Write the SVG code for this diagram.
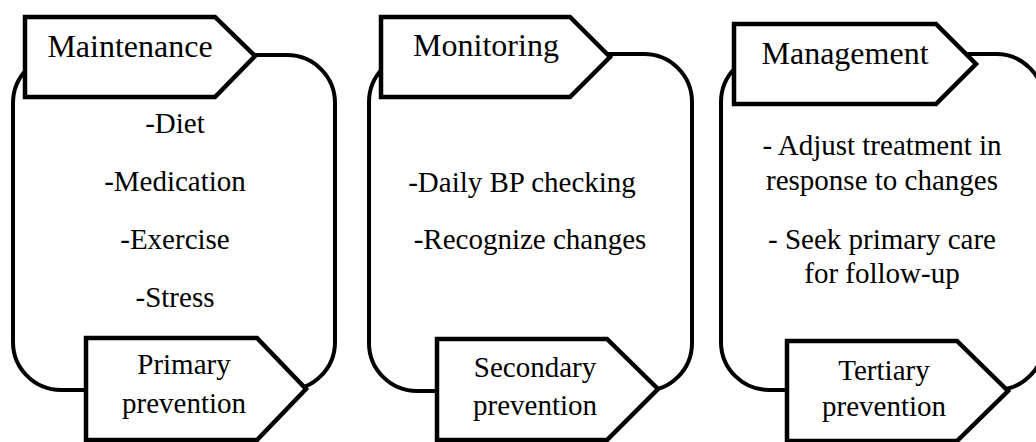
<svg xmlns="http://www.w3.org/2000/svg" width="1036" height="442" viewBox="0 0 1036 442">
<style>
.frame{fill:none;stroke:#000;stroke-width:4}
.tag{fill:#fff;stroke:#000;stroke-width:4.5;stroke-linejoin:miter}
</style>
<rect width="1036" height="442" fill="#fff"/>
<g id="panel1">
<rect class="frame" x="13" y="55" width="322" height="335" rx="48" ry="48"/>
<polygon class="tag" points="25,17 215,17 255,56 215,97 25,97"/>
<text x="130" y="57" style="font-family:Times New Roman,Liberation Serif,serif;font-size:32px" text-anchor="middle">Maintenance</text>
<text x="175" y="133" style="font-family:Times New Roman,Liberation Serif,serif;font-size:29px" text-anchor="middle">-Diet</text>
<text x="175" y="191" style="font-family:Times New Roman,Liberation Serif,serif;font-size:29px" text-anchor="middle">-Medication</text>
<text x="175" y="249" style="font-family:Times New Roman,Liberation Serif,serif;font-size:29px" text-anchor="middle">-Exercise</text>
<text x="175" y="307" style="font-family:Times New Roman,Liberation Serif,serif;font-size:29px" text-anchor="middle">-Stress</text>
<polygon class="tag" points="86,338 257,338 306,389 257,440 86,440"/>
<text x="184" y="374" style="font-family:Times New Roman,Liberation Serif,serif;font-size:29px" text-anchor="middle">Primary</text>
<text x="184" y="413" style="font-family:Times New Roman,Liberation Serif,serif;font-size:29px" text-anchor="middle">prevention</text>
</g>
<g id="panel2">
<rect class="frame" x="369" y="54" width="323" height="337" rx="48" ry="48"/>
<polygon class="tag" points="381,17 570,17 610,57 570,97 381,97"/>
<text x="486" y="56" style="font-family:Times New Roman,Liberation Serif,serif;font-size:32px" text-anchor="middle">Monitoring</text>
<text x="522" y="192" style="font-family:Times New Roman,Liberation Serif,serif;font-size:29px" text-anchor="middle">-Daily BP checking</text>
<text x="530" y="249" style="font-family:Times New Roman,Liberation Serif,serif;font-size:29px" text-anchor="middle">-Recognize changes</text>
<polygon class="tag" points="437,339 607,339 658,389 607,440 437,440"/>
<text x="535" y="377" style="font-family:Times New Roman,Liberation Serif,serif;font-size:29px" text-anchor="middle">Secondary</text>
<text x="535" y="415" style="font-family:Times New Roman,Liberation Serif,serif;font-size:29px" text-anchor="middle">prevention</text>
</g>
<g id="panel3">
<rect class="frame" x="721" y="54" width="323" height="336" rx="48" ry="48"/>
<polygon class="tag" points="734,24 936,24 976,64 936,104 734,104"/>
<text x="845" y="64" style="font-family:Times New Roman,Liberation Serif,serif;font-size:32px" text-anchor="middle">Management</text>
<text x="882" y="155" style="font-family:Times New Roman,Liberation Serif,serif;font-size:29px" text-anchor="middle">- Adjust treatment in</text>
<text x="882" y="190" style="font-family:Times New Roman,Liberation Serif,serif;font-size:29px" text-anchor="middle">response to changes</text>
<text x="882" y="249" style="font-family:Times New Roman,Liberation Serif,serif;font-size:29px" text-anchor="middle">- Seek primary care</text>
<text x="882" y="283" style="font-family:Times New Roman,Liberation Serif,serif;font-size:29px" text-anchor="middle">for follow-up</text>
<polygon class="tag" points="787,341 957,341 1008,391 957,441 787,441"/>
<text x="884" y="380" style="font-family:Times New Roman,Liberation Serif,serif;font-size:29px" text-anchor="middle">Tertiary</text>
<text x="884" y="416" style="font-family:Times New Roman,Liberation Serif,serif;font-size:29px" text-anchor="middle">prevention</text>
</g>
<g id="connectors"></g>
</svg>
